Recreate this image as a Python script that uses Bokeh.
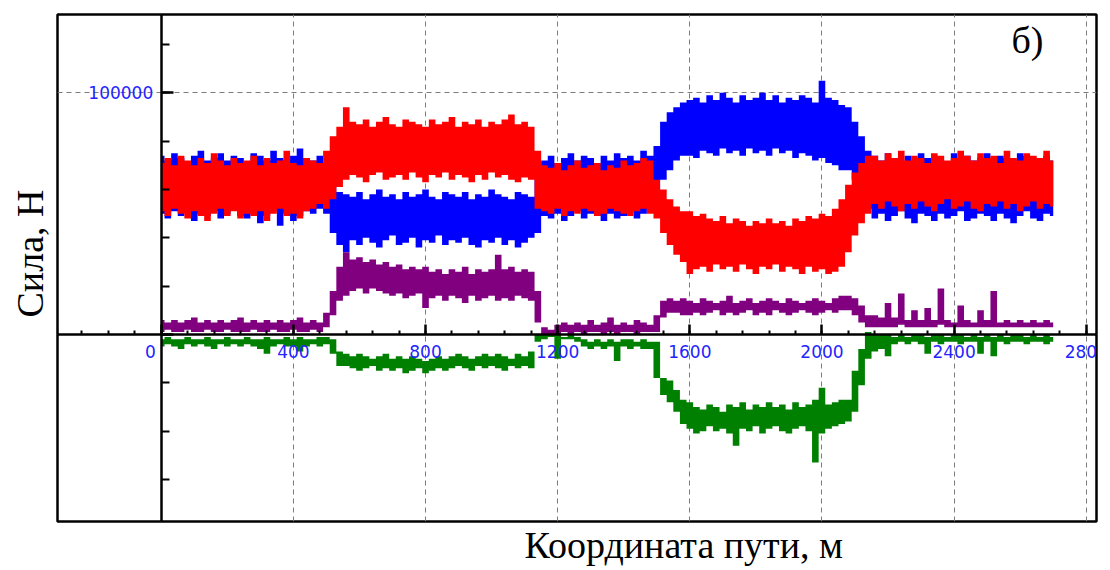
import numpy as np
from bokeh.plotting import figure
from bokeh.models import Range1d, SingleIntervalTicker, Label, BasicTickFormatter, Title
from bokeh.embed import file_html
from bokeh.resources import INLINE

# sampling positions along the track, m
distance = list(range(0, 2701, 20))

# force envelopes (upper / lower edge of the noisy band), kN
blue_hi = [74,72,75,73,71,74,76,72,73,75,72,74,73,71,75,74,72,76,73,72,74,77,73,72,74,
           70,62,59,
           58,57,59,56,58,60,57,58,56,59,57,58,60,57,56,59,58,57,59,56,58,57,60,58,57,56,59,58,57,
           68,
           72,74,71,73,75,72,74,73,71,74,72,75,73,74,72,76,74,
           78,88,92,94,96,
           97,98,96,99,97,100,98,96,99,97,98,100,97,99,96,98,97,99,98,96,105,98,97,95,
           94,88,82,76,
           74,72,75,73,71,74,72,75,73,74,72,71,75,73,74,72,73,75,71,74,73,72,75,74,73,71,74,72]
blue_lo = [50,48,51,49,52,47,50,49,51,48,50,52,49,48,50,46,49,51,45,50,47,49,51,50,52,
           50,42,37,
           34,39,37,40,38,36,39,41,37,38,40,36,39,38,41,37,39,38,40,37,36,39,38,40,37,39,36,38,40,
           42,
           49,48,50,47,49,51,48,50,49,47,50,48,49,51,48,50,52,
           58,64,68,72,74,
           74,73,76,75,74,77,75,76,74,77,75,76,74,77,75,76,73,75,74,72,73,71,70,68,
           68,64,58,52,
           48,50,47,49,51,48,46,50,49,47,50,48,49,51,47,48,50,49,47,50,48,46,49,51,48,47,50,49]
red_hi = [71,73,70,74,72,70,73,71,75,72,70,73,71,72,74,70,73,71,72,76,71,70,73,72,71,
          76,82,86,
          94,88,87,89,86,88,90,87,86,89,88,87,86,89,87,88,90,86,88,87,89,86,88,87,89,91,87,88,86,
          76,
          70,69,71,68,70,72,69,70,71,68,70,69,72,70,71,73,72,
          64,60,56,53,51,
          51,49,50,48,47,49,46,48,47,45,47,46,48,46,47,45,48,47,49,48,50,49,52,56,
          62,67,71,74,
          74,72,75,73,76,72,74,73,71,75,74,72,73,76,74,72,75,73,74,71,76,73,72,75,74,73,76,72]
red_lo = [51,49,52,50,48,51,49,47,50,52,49,51,48,50,49,51,47,50,52,49,50,48,51,52,54,
          52,56,61,
          64,66,65,63,66,67,64,65,66,64,67,65,63,66,65,67,64,66,65,63,66,64,67,65,66,64,63,65,64,
          52,
          51,50,52,49,51,50,52,51,49,50,52,51,50,49,51,52,50,
          48,42,37,33,30,
          25,27,28,26,29,27,28,26,29,27,25,28,27,29,26,28,27,25,28,26,27,25,26,28,
          34,41,46,50,
          54,52,55,53,51,54,52,55,53,51,54,56,52,53,55,52,51,54,53,55,52,54,51,53,55,52,54,53]
purple_hi = [6,5,6,5,6,7,5,6,5,6,5,6,7,5,6,5,6,5,6,5,6,7,5,6,5,
             9,18,28,
             34,31,32,30,31,29,30,28,29,27,28,27,28,26,27,25,27,26,28,25,27,26,27,33,27,28,26,27,26,
             18,
             3,2,4,5,4,5,4,6,4,5,7,4,5,4,6,5,4,
             8,14,15,14,15,
             14,13,15,14,13,14,16,13,14,15,13,14,15,14,13,15,14,13,14,15,14,13,15,16,
             16,15,12,8,
             8,7,13,7,17,6,10,6,11,6,19,6,5,12,6,5,10,6,18,5,6,5,6,5,6,5,6,5]
purple_lo = [1,2,1,1,2,1,1,2,1,1,2,1,1,1,2,1,1,2,1,1,2,1,1,2,1,
             3,8,14,
             16,18,19,17,19,18,17,16,17,15,16,17,11,15,16,14,16,15,13,16,14,15,16,14,15,14,16,15,14,
             5,
             -1,-1,0,1,0,1,0,1,1,0,1,0,1,1,0,1,1,
             1,7,9,9,8,
             8,9,8,9,10,8,9,8,9,10,8,9,8,10,9,8,9,10,9,8,9,10,9,10,
             10,8,5,3,
             3,3,3,3,4,3,3,3,3,3,4,3,3,3,3,3,3,3,3,3,3,3,3,3,3,3,3,3]
green_hi = [-2,-1,-2,-2,-1,-2,-2,-1,-2,-2,-1,-2,-2,-1,-2,-2,-1,-2,-2,-1,-2,-1,-2,-2,-1,
            -1,-2,-7,
            -8,-9,-8,-9,-10,-9,-8,-10,-9,-10,-9,-10,-11,-10,-9,-10,-9,-8,-9,-10,-9,-8,-9,-8,-9,-10,-8,-9,-7,
            0,
            0,0,0,-1,0,-1,-2,-3,-2,-3,-2,-3,-2,-2,-3,-2,-3,
            -3,-18,-19,-23,-27,
            -28,-30,-31,-29,-30,-32,-29,-30,-28,-31,-29,-30,-28,-30,-29,-31,-28,-30,-29,-27,-22,-29,-28,-27,
            -27,-15,-6,1,
            0,0,0,-1,0,-1,0,0,-1,0,0,-1,0,0,-1,0,-1,0,-1,0,-1,0,0,-1,0,-1,0,-1]
green_lo = [-5,-4,-5,-6,-4,-5,-4,-5,-6,-4,-5,-4,-5,-4,-5,-6,-8,-5,-4,-5,-5,-7,-5,-4,-5,
            -4,-8,-13,
            -13,-14,-15,-14,-13,-15,-14,-15,-14,-16,-15,-14,-16,-15,-14,-15,-14,-13,-14,-15,-13,-14,-13,-14,-15,-13,-14,-13,-14,
            -3,
            -2,-1,-10,-2,-2,-3,-5,-6,-5,-6,-5,-11,-5,-6,-5,-6,-6,
            -18,-25,-28,-32,-37,
            -39,-41,-40,-38,-40,-39,-41,-46,-39,-40,-38,-41,-39,-38,-40,-41,-39,-38,-40,-53,-41,-39,-38,-37,
            -36,-32,-21,-10,
            -7,-6,-9,-4,-3,-4,-3,-4,-8,-3,-4,-3,-3,-4,-3,-3,-8,-3,-9,-3,-4,-3,-3,-4,-3,-3,-4,-3]

series = [("blue", blue_lo, blue_hi), ("red", red_lo, red_hi),
          ("purple", purple_lo, purple_hi), ("green", green_lo, green_hi)]
for name, lo, hi in series:
    assert len(lo) == len(distance) and len(hi) == len(distance), (name, len(lo), len(hi))

colors = {"blue": "#0000ff", "red": "#ff0000", "purple": "#800080", "green": "#008000"}
kN = 1000.0

p = figure(width=1110, height=570, output_backend="svg", toolbar_location=None,
           x_range=Range1d(-314, 2831), y_range=Range1d(-77370, 132400),
           min_border_left=57, min_border_right=14, min_border_top=14, min_border_bottom=49,
           background_fill_color="white", border_fill_color="white",
           outline_line_color="black", outline_line_width=2.5)

xt = SingleIntervalTicker(interval=400, num_minor_ticks=5)
yt = SingleIntervalTicker(interval=100000, num_minor_ticks=5)

for ax in (p.xaxis, p.yaxis):
    ax.fixed_location = 0
    ax.axis_line_color = "black"
    ax.axis_line_width = 2.5
    ax.major_tick_line_color = "black"
    ax.minor_tick_line_color = "black"
    ax.major_tick_line_width = 2.5
    ax.minor_tick_line_width = 2
    ax.major_tick_out = 0
    ax.minor_tick_out = 0
    ax.major_label_text_font = "DejaVu Sans"
    ax.major_label_text_font_size = "17px"
    ax.major_label_text_color = "#2424ff"
    ax.formatter = BasicTickFormatter(use_scientific=False)

p.xaxis.ticker = xt
p.yaxis.ticker = yt
p.xaxis.major_tick_in = 10
p.xaxis.minor_tick_in = 4
p.yaxis.major_tick_in = 12
p.yaxis.minor_tick_in = 8
p.xaxis.major_label_standoff = 7
p.yaxis.major_label_standoff = 8
p.xaxis.major_label_overrides = {0: "0\u00a0\u00a0\u00a0\u00a0"}
p.yaxis.major_label_overrides = {0: "", 100000: "100000"}

for g, t in ((p.xgrid, xt), (p.ygrid, yt)):
    g.ticker = t
    g.grid_line_color = "#7c7c7c"
    g.grid_line_dash = "5 4"
    g.grid_line_width = 1

x = np.array(distance, dtype=float)
for name, lo, hi in series:
    p.varea_step(x=x, y1=np.array(lo) * kN, y2=np.array(hi) * kN,
                 step_mode="center", fill_color=colors[name])

serif = "Liberation Serif"
p.add_layout(Title(text="Координата пути, м", align="left", offset=467, vertical_align="bottom",
                   standoff=0, text_font=serif, text_font_size="38px",
                   text_font_style="normal", text_color="black"), "below")
p.add_layout(Title(text="Сила, Н", align="left", offset=204, vertical_align="top",
                   standoff=10, text_font=serif, text_font_size="38px",
                   text_font_style="normal", text_color="black"), "left")
p.add_layout(Label(x=2622, y=122000, text="б)", text_font=serif, text_font_size="38px",
                   text_align="center", text_baseline="alphabetic", text_color="black"))

open("out.html", "w").write(file_html(p, INLINE))
